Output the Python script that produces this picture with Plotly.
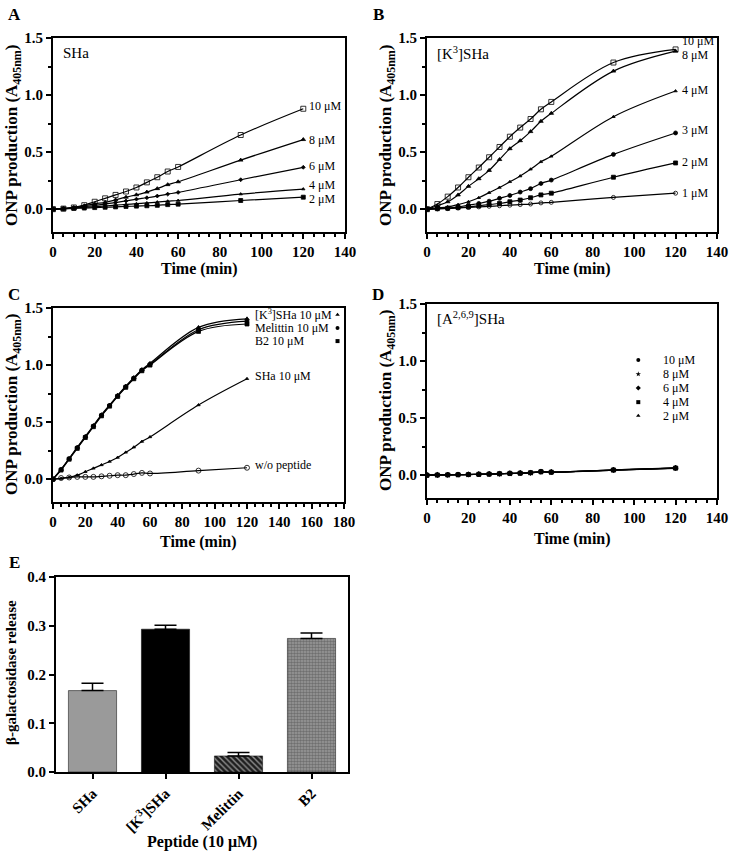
import plotly.graph_objects as go

SERIF = "Liberation Serif"
W, H = 730, 852

# ---------------- data ----------------
time = [0, 5, 10, 15, 20, 25, 30, 35, 40, 45, 50, 55, 60, 90, 120]

# Panel A: SHa
a_labels = ["10 μM", "8 μM", "6 μM", "4 μM", "2 μM"]
sha_10 = [0, 0.005, 0.015, 0.035, 0.065, 0.095, 0.125, 0.155, 0.19, 0.235, 0.28, 0.33, 0.37, 0.65, 0.88]
sha_8 = [0, 0.005, 0.015, 0.03, 0.047, 0.06, 0.082, 0.105, 0.126, 0.15, 0.18, 0.215, 0.24, 0.43, 0.61]
sha_6 = [0, 0.005, 0.012, 0.022, 0.033, 0.045, 0.058, 0.072, 0.088, 0.1, 0.115, 0.132, 0.147, 0.258, 0.367]
sha_4 = [0, 0.004, 0.01, 0.016, 0.022, 0.028, 0.035, 0.042, 0.048, 0.055, 0.062, 0.07, 0.076, 0.132, 0.176]
sha_2 = [0, 0.003, 0.007, 0.01, 0.014, 0.017, 0.02, 0.024, 0.027, 0.03, 0.034, 0.04, 0.044, 0.076, 0.105]
a_label_y = [0.9, 0.61, 0.38, 0.215, 0.085]

# Panel B: [K3]SHa
b_labels = ["10 μM", "8 μM", "4 μM", "3 μM", "2 μM", "1 μM"]
k3_10 = [0, 0.045, 0.11, 0.19, 0.28, 0.365, 0.455, 0.545, 0.635, 0.715, 0.79, 0.875, 0.94, 1.285, 1.40]
k3_8 = [0, 0.03, 0.065, 0.125, 0.2, 0.267, 0.34, 0.435, 0.53, 0.6, 0.68, 0.77, 0.84, 1.21, 1.385]
k3_4 = [0, 0.01, 0.02, 0.04, 0.065, 0.1, 0.145, 0.19, 0.24, 0.29, 0.35, 0.415, 0.463, 0.81, 1.035]
k3_3 = [0, 0.005, 0.01, 0.02, 0.035, 0.05, 0.07, 0.095, 0.12, 0.15, 0.18, 0.225, 0.255, 0.48, 0.668]
k3_2 = [0, 0.004, 0.008, 0.014, 0.02, 0.03, 0.04, 0.05, 0.065, 0.08, 0.1, 0.125, 0.14, 0.28, 0.405]
k3_1 = [0, 0.003, 0.005, 0.01, 0.015, 0.02, 0.025, 0.03, 0.035, 0.04, 0.045, 0.055, 0.06, 0.103, 0.14]
b_label_y = [1.47, 1.35, 1.04, 0.69, 0.41, 0.14]

# Panel C: comparison at 10 μM
c_labels = ["[K<sup>3</sup>]SHa 10 μM", "Melittin 10 μM", "B2 10 μM"]
c_k3 = [0, 0.085, 0.18, 0.28, 0.375, 0.47, 0.565, 0.65, 0.735, 0.815, 0.89, 0.96, 1.015, 1.33, 1.405]
c_mel = [0, 0.085, 0.18, 0.275, 0.37, 0.465, 0.56, 0.645, 0.73, 0.81, 0.885, 0.955, 1.005, 1.31, 1.385]
c_b2 = [0, 0.08, 0.175, 0.27, 0.365, 0.46, 0.555, 0.64, 0.725, 0.805, 0.88, 0.95, 1.0, 1.295, 1.36]
c_sha = [0, 0.005, 0.015, 0.035, 0.065, 0.095, 0.125, 0.155, 0.19, 0.235, 0.28, 0.33, 0.37, 0.65, 0.88]
c_none = [0, 0.01, 0.015, 0.02, 0.02, 0.02, 0.025, 0.03, 0.035, 0.035, 0.045, 0.055, 0.05, 0.075, 0.10]
c_label_y = [1.44, 1.325, 1.21]

# Panel D: [A2,6,9]SHa
d_labels = ["10 μM", "8 μM", "6 μM", "4 μM", "2 μM"]
d_10 = [0, 0.002, 0.003, 0.005, 0.006, 0.008, 0.01, 0.013, 0.016, 0.018, 0.022, 0.032, 0.027, 0.047, 0.064]
d_8 = [0, 0.002, 0.003, 0.004, 0.006, 0.008, 0.01, 0.012, 0.015, 0.018, 0.021, 0.03, 0.026, 0.045, 0.062]
d_6 = [0, 0.001, 0.003, 0.004, 0.005, 0.007, 0.009, 0.012, 0.015, 0.017, 0.02, 0.029, 0.026, 0.044, 0.061]
d_4 = [0, 0.002, 0.003, 0.005, 0.006, 0.008, 0.01, 0.013, 0.016, 0.018, 0.022, 0.031, 0.027, 0.046, 0.063]
d_2 = [0, 0.001, 0.002, 0.004, 0.005, 0.007, 0.009, 0.011, 0.014, 0.016, 0.02, 0.028, 0.025, 0.043, 0.06]
d_label_y = [1.01, 0.886, 0.764, 0.64, 0.52]

# Panel E: beta-galactosidase release
e_peptides = ["SHa", "[K<sup>3</sup>]SHa", "Melittin", "B2"]
e_release = [0.167, 0.293, 0.033, 0.274]
e_err = [0.015, 0.008, 0.007, 0.011]

# ---------------- helpers ----------------
def px(x):
    return x / W

def py(y):
    return 1 - y / H

fig = go.Figure()

def line_trace(x, y, symbol, size, ax, filled="black"):
    fig.add_trace(go.Scatter(
        x=x, y=y, mode="lines+markers", xaxis=ax[0], yaxis=ax[1],
        line=dict(color="black", width=1.2, shape="spline"),
        marker=dict(symbol=symbol, size=size, color=filled,
                    line=dict(color="black", width=0.8)),
        showlegend=False, hoverinfo="skip"))

def key_trace(x, ys, symbols, ax):
    fig.add_trace(go.Scatter(
        x=[x] * len(ys), y=ys, mode="markers", xaxis=ax[0], yaxis=ax[1],
        marker=dict(symbol=symbols, size=4, color="black"),
        showlegend=False, hoverinfo="skip"))

# Panel A
A = ("x", "y")
for s, sym, sz in zip([sha_10, sha_8, sha_6, sha_4, sha_2],
                      ["square-open", "triangle-up", "diamond", "triangle-up", "square"],
                      [5, 4, 3, 3, 4]):
    line_trace(time, s, sym, sz, A)

# Panel B
B = ("x2", "y2")
for s, sym, sz in zip([k3_10, k3_8, k3_4, k3_3, k3_2, k3_1],
                      ["square-open", "triangle-up", "triangle-up", "circle", "square", "circle-open"],
                      [5, 4, 3, 4, 4, 4]):
    line_trace(time, s, sym, sz, B)

# Panel C
C = ("x3", "y3")
for s, sym, sz in zip([c_k3, c_mel, c_b2, c_sha, c_none],
                      ["triangle-up", "circle", "square", "triangle-up", "circle-open"],
                      [4, 4, 4, 3, 5]):
    line_trace(time, s, sym, sz, C)
key_trace(176, c_label_y, ["triangle-up", "circle", "square"], C)

# Panel D
D = ("x4", "y4")
for s, sym in zip([d_10, d_8, d_6, d_4, d_2],
                  ["circle", "star", "diamond", "square", "triangle-up"]):
    line_trace(time, s, sym, 4, D)
key_trace(102, d_label_y, ["circle", "star", "diamond", "square", "triangle-up"], D)

# Panel E
fig.add_trace(go.Bar(
    x=e_peptides, y=e_release, xaxis="x5", yaxis="y5", width=0.66,
    marker=dict(
        color=["#9a9a9a", "#000000", "#1e1e1e", "#9a9a9a"],
        line=dict(color="black", width=0.5),
        pattern=dict(shape=["", "", "\\", "."],
                     fgcolor=["#9a9a9a", "#000000", "#8a8a8a", "#2a2a2a"],
                     bgcolor=["#9a9a9a", "#000000", "#1e1e1e", "#d0d0d0"],
                     size=[6, 6, 4, 3], solidity=[0.3, 0.3, 0.35, 0.55],
                     fillmode="overlay")),
    error_y=dict(type="data", array=e_err, arrayminus=[0, 0, 0, 0], symmetric=False,
                 color="black", thickness=1.5, width=11),
    showlegend=False, hoverinfo="skip"))

# ---------------- axes ----------------
tickfont = dict(family=SERIF, size=15, color="black", weight="bold")

def xaxis(domain, anchor, rng):
    return dict(domain=domain, anchor=anchor, range=rng, dtick=20, tick0=0,
                showline=True, linewidth=2, linecolor="black", mirror=True,
                ticks="outside", ticklen=5, tickwidth=1.5, tickcolor="black",
                minor=dict(dtick=5, ticklen=3, ticks="outside", tickwidth=1.5, tickcolor="black"),
                showgrid=False, zeroline=False, tickfont=tickfont, automargin=False)

def yaxis(domain, anchor):
    return dict(domain=domain, anchor=anchor, range=[-0.2, 1.5], dtick=0.5, tick0=0,
                tickformat=".1f",
                showline=True, linewidth=2, linecolor="black", mirror=True,
                ticks="outside", ticklen=5, tickwidth=1.5, tickcolor="black",
                minor=dict(dtick=0.25, ticklen=3, ticks="outside", tickwidth=1.5, tickcolor="black"),
                showgrid=False, zeroline=False, tickfont=tickfont, automargin=False)

xA = [px(53), px(345)]
yA = [py(232), py(38)]
xB = [px(427), px(717)]
yB = [py(232), py(38)]
xC = [px(53), px(344)]
yC = [py(502), py(308)]
xD = [px(427), px(717)]
yD = [py(498), py(304)]
xE = [px(56), px(348)]
yE = [py(772), py(577)]

fig.update_layout(
    width=W, height=H, margin=dict(l=0, r=0, t=0, b=0),
    paper_bgcolor="white", plot_bgcolor="white",
    xaxis=xaxis(xA, "y", [0, 140]), yaxis=yaxis(yA, "x"),
    xaxis2=xaxis(xB, "y2", [0, 140]), yaxis2=yaxis(yB, "x2"),
    xaxis3=xaxis(xC, "y3", [0, 180]), yaxis3=yaxis(yC, "x3"),
    xaxis4=xaxis(xD, "y4", [0, 140]), yaxis4=yaxis(yD, "x4"),
    xaxis5=dict(domain=xE, anchor="y5", range=[-0.5, 3.5], type="category",
                showline=True, linewidth=2, linecolor="black", mirror=True,
                ticks="outside", ticklen=5, tickwidth=1.5, tickcolor="black",
                tickangle=-45, showgrid=False, zeroline=False,
                tickfont=tickfont, automargin=False),
    yaxis5=dict(domain=yE, anchor="x5", range=[0, 0.4], dtick=0.1, tickformat=".1f",
                showline=True, linewidth=2, linecolor="black", mirror=True,
                ticks="outside", ticklen=5, tickwidth=1.5, tickcolor="black",
                showgrid=False, zeroline=False, tickfont=tickfont, automargin=False),
)

# ---------------- text ----------------
ann = []
bold = dict(family=SERIF, color="black", weight="bold")
label_font = dict(family=SERIF, size=12, color="black")

# panel letters
for letter, x, y in [("A", 14, 15), ("B", 378, 15), ("C", 14, 295), ("D", 378, 295), ("E", 14, 562)]:
    ann.append(dict(text=letter, x=px(x), y=py(y), xref="paper", yref="paper",
                    showarrow=False, font=dict(**bold, size=17), xanchor="center", yanchor="middle"))

ytitle = "ONP production (A<sub>405nm</sub>)"
for x, y in [(13, 136), (387, 136), (13, 405), (387, 401)]:
    ann.append(dict(text=ytitle, x=px(x), y=py(y), xref="paper", yref="paper", textangle=-90,
                    showarrow=False, font=dict(**bold, size=17), xanchor="center", yanchor="middle"))
ann.append(dict(text="β-galactosidase release", x=px(11), y=py(673), xref="paper", yref="paper",
                textangle=-90, showarrow=False, font=dict(**bold, size=15),
                xanchor="center", yanchor="middle"))

for x, y in [(199, 269), (572, 269), (198, 542), (572, 539)]:
    ann.append(dict(text="Time (min)", x=px(x), y=py(y), xref="paper", yref="paper",
                    showarrow=False, font=dict(**bold, size=16), xanchor="center", yanchor="middle"))
ann.append(dict(text="Peptide (10 μM)", x=px(202), y=py(842), xref="paper", yref="paper",
                showarrow=False, font=dict(**bold, size=16), xanchor="center", yanchor="middle"))

# panel titles
ann.append(dict(text="SHa", x=4, y=1.37, xref="x", yref="y", showarrow=False,
                font=dict(family=SERIF, size=15, color="black"), xanchor="left", yanchor="middle"))
ann.append(dict(text="[K<sup>3</sup>]SHa", x=4, y=1.37, xref="x2", yref="y2", showarrow=False,
                font=dict(family=SERIF, size=15, color="black"), xanchor="left", yanchor="middle"))
ann.append(dict(text="[A<sup>2,6,9</sup>]SHa", x=4, y=1.38, xref="x4", yref="y4", showarrow=False,
                font=dict(family=SERIF, size=15, color="black"), xanchor="left", yanchor="middle"))

# curve labels
for t, y in zip(a_labels, a_label_y):
    ann.append(dict(text=t, x=122, y=y, xref="x", yref="y", showarrow=False,
                    font=label_font, xanchor="left", yanchor="middle"))
for t, y in zip(b_labels, b_label_y):
    ann.append(dict(text=t, x=122, y=y, xref="x2", yref="y2", showarrow=False,
                    font=label_font, xanchor="left", yanchor="middle"))
for t, y in zip(c_labels, c_label_y):
    ann.append(dict(text=t, x=124, y=y, xref="x3", yref="y3", showarrow=False,
                    font=label_font, xanchor="left", yanchor="middle"))
ann.append(dict(text="SHa 10 μM", x=124, y=0.9, xref="x3", yref="y3", showarrow=False,
                font=label_font, xanchor="left", yanchor="middle"))
ann.append(dict(text="w/o peptide", x=124, y=0.125, xref="x3", yref="y3", showarrow=False,
                font=label_font, xanchor="left", yanchor="middle"))
for t, y in zip(d_labels, d_label_y):
    ann.append(dict(text=t, x=113, y=y, xref="x4", yref="y4", showarrow=False,
                    font=label_font, xanchor="left", yanchor="middle"))

fig.update_layout(annotations=ann)

fig.write_html("out.html")
